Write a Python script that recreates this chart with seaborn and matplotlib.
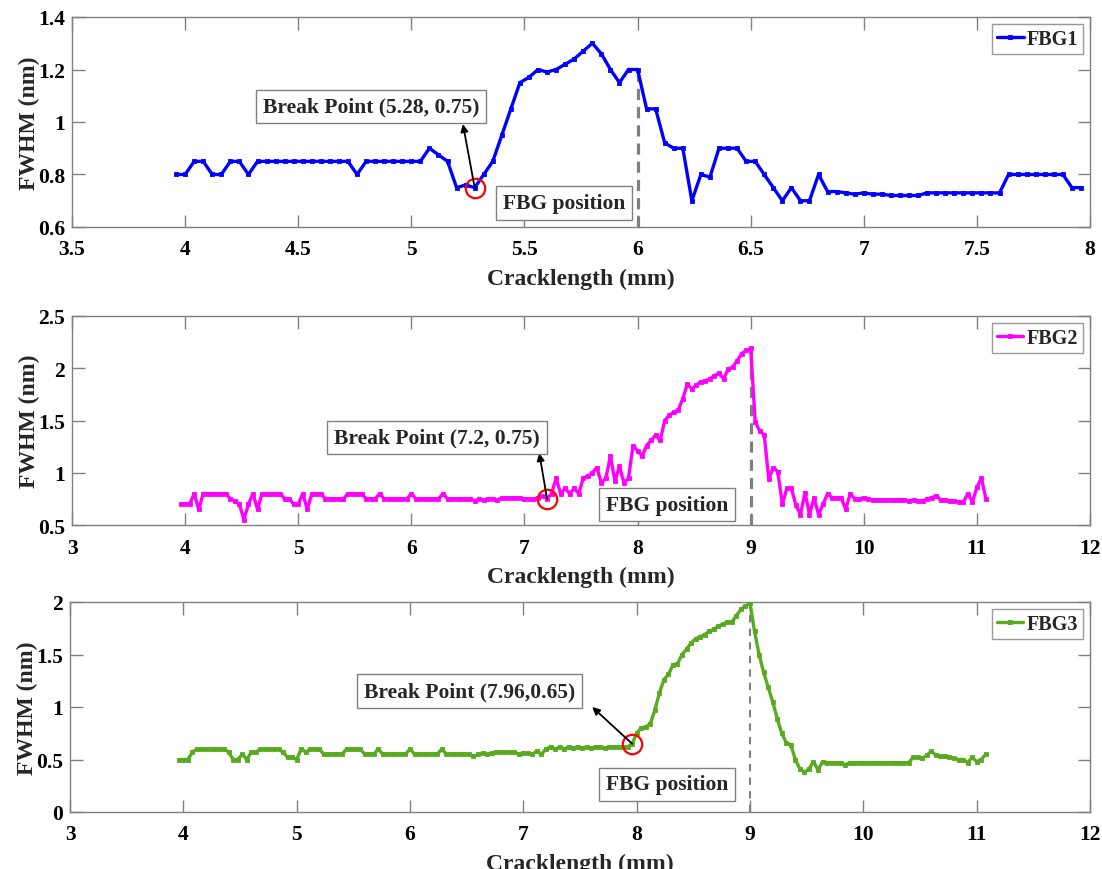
import numpy as np
import matplotlib
matplotlib.use("Agg")
import matplotlib.pyplot as plt
from matplotlib.ticker import FuncFormatter
import seaborn as sns

# Crack length sampling grids (mm), 0.04 mm steps
crack_fbg1 = np.round(np.arange(3.96, 7.96 + 1e-9, 0.04), 2)
crack_fbg23 = np.round(np.arange(3.96, 11.08 + 1e-9, 0.04), 2)

# FWHM of each grating (nm)
fwhm_fbg1 = [
    0.80, 0.80, 0.85, 0.85, 0.80, 0.80, 0.85, 0.85, 0.80, 0.85,
    0.85, 0.85, 0.85, 0.85, 0.85, 0.85, 0.85, 0.85, 0.85, 0.85,
    0.80,
    0.85, 0.85, 0.85, 0.85, 0.85, 0.85, 0.85,
    0.90, 0.875, 0.85, 0.75, 0.76, 0.75, 0.80, 0.85, 0.95, 1.05, 1.15, 1.17,
    1.20, 1.19, 1.20, 1.22, 1.24, 1.27, 1.30, 1.26, 1.20, 1.15, 1.20, 1.20,
    1.05, 1.05, 0.92, 0.90, 0.90, 0.70, 0.80, 0.79, 0.90, 0.90, 0.90,
    0.85, 0.85, 0.80, 0.75, 0.70, 0.75, 0.70, 0.70, 0.80,
    0.735, 0.735, 0.73, 0.725, 0.73, 0.725, 0.725, 0.72, 0.72, 0.72, 0.72,
    0.73, 0.73, 0.73, 0.73, 0.73, 0.73, 0.73, 0.73, 0.73,
    0.80, 0.80, 0.80, 0.80, 0.80, 0.80, 0.80,
    0.75, 0.75,
]

fwhm_fbg2 = [
    0.70, 0.70, 0.70, 0.80, 0.65, 0.80, 0.80, 0.80, 0.80, 0.80,
    0.80, 0.75, 0.73, 0.70, 0.55, 0.70, 0.80, 0.65, 0.80, 0.80,
    0.80, 0.80, 0.80, 0.75, 0.75, 0.70, 0.70, 0.80, 0.65, 0.80,
    0.80, 0.80, 0.75, 0.75, 0.75, 0.75, 0.75, 0.80, 0.80, 0.80,
    0.80, 0.75, 0.75, 0.75, 0.80, 0.75, 0.75, 0.75, 0.75, 0.75,
    0.75, 0.80, 0.75, 0.75, 0.75, 0.75, 0.75, 0.75, 0.80, 0.75,
    0.75, 0.75, 0.75, 0.75, 0.75, 0.73, 0.75, 0.74, 0.75, 0.75,
    0.74, 0.76, 0.76, 0.76, 0.76, 0.76, 0.75, 0.75, 0.75, 0.76,
    0.78, 0.75, 0.80, 0.95, 0.80, 0.85, 0.80, 0.85, 0.80, 0.95,
    0.97, 1.00, 1.05, 0.90, 0.95, 1.16, 0.92, 1.06, 0.90, 0.95,
    1.26, 1.21, 1.16, 1.26, 1.31, 1.36, 1.31, 1.50, 1.55, 1.58,
    1.60, 1.71, 1.85, 1.80, 1.84, 1.87, 1.88, 1.90, 1.93, 1.95,
    1.90, 1.99, 2.01, 2.07, 2.14, 2.17, 2.19, 1.49, 1.40, 1.36,
    0.94, 1.05, 1.01, 0.70, 0.85, 0.85, 0.69, 0.60, 0.81, 0.60,
    0.76, 0.60, 0.70, 0.80, 0.76, 0.76, 0.76, 0.65, 0.80, 0.75,
    0.75, 0.76, 0.75, 0.74, 0.74, 0.74, 0.74, 0.74, 0.74, 0.74,
    0.74, 0.73, 0.74, 0.73, 0.73, 0.75, 0.76, 0.78, 0.74, 0.74,
    0.73, 0.73, 0.72, 0.72, 0.80, 0.72, 0.86, 0.95, 0.75,
]

fwhm_fbg3 = [
    0.50, 0.50, 0.50, 0.57, 0.60, 0.60, 0.60, 0.60, 0.60, 0.60,
    0.60, 0.57, 0.50, 0.50, 0.55, 0.50, 0.57, 0.57, 0.60, 0.60,
    0.60, 0.60, 0.60, 0.57, 0.52, 0.52, 0.50, 0.60, 0.57, 0.60,
    0.60, 0.60, 0.55, 0.55, 0.55, 0.55, 0.55, 0.60, 0.60, 0.60,
    0.60, 0.55, 0.55, 0.55, 0.60, 0.55, 0.55, 0.55, 0.55, 0.55,
    0.55, 0.60, 0.55, 0.55, 0.55, 0.55, 0.55, 0.55, 0.60, 0.55,
    0.55, 0.55, 0.55, 0.55, 0.55, 0.53, 0.55, 0.56, 0.55, 0.56,
    0.57, 0.57, 0.57, 0.57, 0.57, 0.55, 0.56, 0.56, 0.55, 0.58,
    0.55, 0.60, 0.62, 0.60, 0.62, 0.60, 0.62, 0.61, 0.62, 0.61,
    0.62, 0.61, 0.62, 0.62, 0.61, 0.62, 0.62, 0.62, 0.62, 0.62,
    0.65, 0.75, 0.80, 0.81, 0.84, 0.97, 1.13, 1.26, 1.31, 1.40,
    1.41, 1.50, 1.55, 1.61, 1.65, 1.67, 1.69, 1.72, 1.74, 1.77,
    1.79, 1.81, 1.81, 1.87, 1.93, 1.96, 1.99, 1.72, 1.50, 1.33,
    1.19, 1.05, 0.89, 0.75, 0.66, 0.64, 0.50, 0.41, 0.38, 0.41,
    0.48, 0.40, 0.48, 0.47, 0.47, 0.47, 0.47, 0.45, 0.47, 0.47,
    0.47, 0.47, 0.47, 0.47, 0.47, 0.47, 0.47, 0.47, 0.47, 0.47,
    0.47, 0.47, 0.52, 0.52, 0.51, 0.54, 0.58, 0.54, 0.53, 0.53,
    0.52, 0.51, 0.50, 0.50, 0.47, 0.52, 0.48, 0.50, 0.55,
]

series_names = ["FBG1", "FBG2", "FBG3"]
series_colors = ["#0000ff", "#ff00ff", "#58aa1e"]
fbg_positions = [6.0, 9.0, 9.0]
break_points = [(5.28, 0.75), (7.2, 0.75), (7.96, 0.65)]
break_labels = ["Break Point (5.28, 0.75)", "Break Point (7.2, 0.75)",
                "Break Point (7.96,0.65)"]
x_ticks = [np.arange(3.5, 8.01, 0.5), np.arange(3, 12.01, 1), np.arange(3, 12.01, 1)]
y_ticks = [np.arange(0.6, 1.401, 0.2), np.arange(0.5, 2.501, 0.5), np.arange(0, 2.001, 0.5)]

crack_data = [crack_fbg1, crack_fbg23, crack_fbg23]
fwhm_data = [fwhm_fbg1, fwhm_fbg2, fwhm_fbg3]

sns.set_theme(style="ticks")
plt.rcParams["font.family"] = ["Liberation Serif", "DejaVu Serif"]
plt.rcParams["font.weight"] = "bold"
plt.rcParams["axes.labelweight"] = "bold"

W, H = 1102, 870
fig = plt.figure(figsize=(W / 100, H / 100), dpi=100)

# panel rectangles in pixels: left, top, right, bottom
panel_px = [(72, 18, 1090, 228), (72, 317, 1090, 526), (70, 603, 1090, 813)]
# text boxes (axes fraction) and arrow heads (axes fraction)
break_box_pos = [(0.294, 0.574), (0.3585, 0.419), (0.392, 0.576)]
arrow_heads = [(0.384, 0.49), (0.459, 0.344), (0.512, 0.50)]
fbg_box_pos = [(0.483, 0.114), (0.5845, 0.098), (0.585, 0.131)]
dash_styles = [(2.3, (3.5, 2.2)), (2.3, (3.5, 2.2)), (1.5, (3.5, 3.0))]

gray = "#808080"
fmt = FuncFormatter(lambda v, p: f"{v:g}")

for k in range(3):
    l, t, r, b = panel_px[k]
    ax = fig.add_axes([l / W, (H - b) / H, (r - l) / W, (b - t) / H])
    x = np.asarray(crack_data[k])
    y = np.asarray(fwhm_data[k])
    sns.lineplot(x=x, y=y, ax=ax, color=series_colors[k], linewidth=2.4,
                 marker="s", markersize=3, markeredgewidth=0.6,
                 markeredgecolor=series_colors[k], label=series_names[k],
                 sort=False)

    xt, yt = x_ticks[k], y_ticks[k]
    ax.set_xlim(xt[0], xt[-1])
    ax.set_ylim(yt[0], yt[-1])
    ax.set_xticks(xt)
    ax.set_yticks(yt)
    ax.xaxis.set_major_formatter(fmt)
    ax.yaxis.set_major_formatter(fmt)
    ax.tick_params(axis="both", direction="in", length=9, width=1, color=gray,
                   labelcolor="black", labelsize=15.5, top=True, right=True)
    ax.tick_params(axis="x", pad=9)
    ax.tick_params(axis="y", pad=5)
    for s in ax.spines.values():
        s.set_color(gray)
        s.set_linewidth(1)
        s.set_visible(True)

    ax.set_xlabel("Cracklength (mm)", fontsize=17, fontweight="bold", labelpad=6)
    ax.set_ylabel("FWHM (nm)", fontsize=17, fontweight="bold", labelpad=-1.5)

    # FBG position marker: dashed line from the axis floor to the curve
    pos = fbg_positions[k]
    peak = y[np.argmin(np.abs(x - pos))]
    lw, dashes = dash_styles[k]
    ax.plot([pos, pos], [yt[0], peak], color=gray, linewidth=lw,
            linestyle=(0, dashes), zorder=1)

    # break point circle and arrow
    bx, by = break_points[k]
    ax.plot([bx], [by], marker="o", markersize=14, markerfacecolor="none",
            markeredgecolor="red", markeredgewidth=1.6, linestyle="none", zorder=5)
    ax.annotate("", xy=arrow_heads[k], xycoords="axes fraction",
                xytext=(bx, by), textcoords="data",
                arrowprops=dict(arrowstyle="-|>", color="black", lw=1.3,
                                mutation_scale=11, shrinkA=0, shrinkB=0),
                zorder=6)

    box = dict(boxstyle="square,pad=0.32", facecolor="white", edgecolor=gray,
               linewidth=1)
    ax.text(*break_box_pos[k], break_labels[k], transform=ax.transAxes,
            ha="center", va="center", fontsize=15.5, fontweight="bold", bbox=box,
            zorder=7)
    ax.text(*fbg_box_pos[k], "FBG position", transform=ax.transAxes,
            ha="center", va="center", fontsize=15.5, fontweight="bold", bbox=box,
            zorder=7)

    leg = ax.legend(loc="upper right", frameon=True, fancybox=False,
                    edgecolor=gray, handlelength=1.3, handletextpad=0.15,
                    borderpad=0.25, borderaxespad=0.35,
                    prop={"weight": "bold", "size": 14.5})
    leg.get_frame().set_linewidth(1)

fig.savefig("out.png", dpi=100, facecolor="white")
